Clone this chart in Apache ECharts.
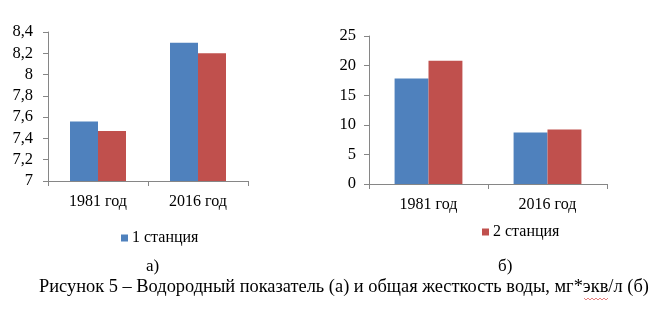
<!DOCTYPE html>
<html>
<head>
<meta charset="utf-8">
<script src="https://cdn.jsdelivr.net/npm/echarts@6/dist/echarts.min.js"></script>
<style>
  html, body { margin: 0; padding: 0; background: #fff; }
  #chart { width: 656px; height: 329px; }
</style>
</head>
<body>
<div id="chart"></div>
<script>
// Categories and series values
const years = ['1981 год', '2016 год'];
const stationNames = ['1 станция', '2 станция'];

// (а) водородный показатель, pH
const phStation1 = [7.56, 8.30];
const phStation2 = [7.47, 8.20];

// (б) общая жесткость, мг*экв/л
const hardStation1 = [17.8, 8.7];
const hardStation2 = [20.8, 9.2];

const panelLabels = ['а)', 'б)'];
const caption = 'Рисунок 5 – Водородный показатель (а) и общая жесткость воды, мг*экв/л (б)';

const FONT = '"Liberation Serif", "Times New Roman", serif';
const BLUE = '#4F81BD';
const RED = '#C0504D';
const AXIS = '#868686';

const chart = echarts.init(document.getElementById('chart'), null, { renderer: 'canvas' });

function catAxis(gridIndex) {
  return {
    type: 'category',
    gridIndex,
    data: years,
    axisLine: { lineStyle: { color: AXIS, width: 1 } },
    axisTick: { show: true, length: 5, lineStyle: { color: AXIS } },
    axisLabel: { color: '#000', fontFamily: FONT, fontSize: 16, margin: 13 }
  };
}

function valAxis(gridIndex, min, max, interval, fmt, margin) {
  return {
    type: 'value',
    gridIndex,
    min, max, interval,
    axisLine: { show: true, lineStyle: { color: AXIS, width: 1 } },
    axisTick: { show: true, length: 5, lineStyle: { color: AXIS } },
    splitLine: { show: false },
    axisLabel: { color: '#000', fontFamily: FONT, fontSize: 16.5, margin, formatter: fmt }
  };
}

const commaFmt = v => String(Math.round(v * 10) / 10).replace('.', ',');

const legendText = { fontFamily: FONT, fontSize: 16, color: '#000', padding: [0, 0, 0, -1] };

const option = {
  animation: false,
  backgroundColor: '#fff',
  textStyle: { fontFamily: FONT },
  grid: [
    { left: 48, top: 32, width: 200, height: 149 },
    { left: 369, top: 36, width: 238, height: 148 }
  ],
  xAxis: [catAxis(0), catAxis(1)],
  yAxis: [
    valAxis(0, 7, 8.4, 0.2, commaFmt, 15),
    valAxis(1, 0, 25, 5, v => String(v), 13)
  ],
  legend: [
    {
      data: [stationNames[0]],
      left: 121, top: 230, padding: 0,
      itemWidth: 7, itemHeight: 7, itemGap: 4,
      icon: 'rect',
      textStyle: legendText
    },
    {
      data: [stationNames[1]],
      left: 482, top: 224, padding: 0,
      itemWidth: 7, itemHeight: 7, itemGap: 4,
      icon: 'rect',
      textStyle: legendText
    }
  ],
  series: [
    { name: stationNames[0], type: 'bar', xAxisIndex: 0, yAxisIndex: 0, data: phStation1,
      itemStyle: { color: BLUE }, barGap: '0%', barCategoryGap: '44%' },
    { name: stationNames[1], type: 'bar', xAxisIndex: 0, yAxisIndex: 0, data: phStation2,
      itemStyle: { color: RED }, barGap: '0%', barCategoryGap: '44%' },
    { name: stationNames[0], type: 'bar', xAxisIndex: 1, yAxisIndex: 1, data: hardStation1,
      itemStyle: { color: BLUE }, barGap: '0%', barCategoryGap: '43%' },
    { name: stationNames[1], type: 'bar', xAxisIndex: 1, yAxisIndex: 1, data: hardStation2,
      itemStyle: { color: RED }, barGap: '0%', barCategoryGap: '43%' }
  ],
  graphic: [
    { type: 'text', left: 146, top: 258,
      style: { text: panelLabels[0], font: '17px ' + FONT, fill: '#000' } },
    { type: 'text', left: 498, top: 258,
      style: { text: panelLabels[1], font: '17px ' + FONT, fill: '#000' } },
    { type: 'text', left: 39, top: 278,
      style: { text: caption, font: '18.4px ' + FONT, fill: '#000' } },
    // spell-check squiggle under "экв"
    { type: 'polyline', shape: { points: [[584, 298], [586, 300], [588, 298], [590, 300], [592, 298], [594, 300], [596, 298], [598, 300], [600, 298], [602, 300], [604, 298], [606, 300], [608, 298]] },
      style: { stroke: '#E06060', lineWidth: 0.8, fill: null } }
  ]
};

chart.setOption(option);
</script>
</body>
</html>
